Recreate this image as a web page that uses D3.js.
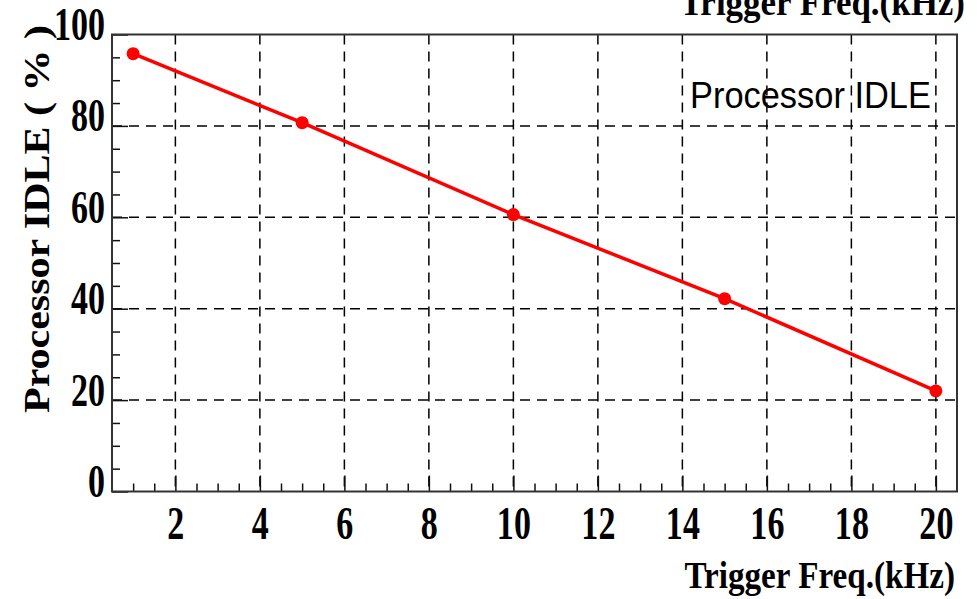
<!DOCTYPE html>
<html>
<head>
<meta charset="utf-8">
<script src="https://cdn.jsdelivr.net/npm/d3@7"></script>
<style>
  body { margin: 0; background: #fff; }
  svg { display: block; }
</style>
</head>
<body>
<div id="chart"></div>
<script>
// data
var freq = [1, 5, 10, 15, 20];
var idle = [95.8, 80.7, 60.6, 42.2, 22.0];
var xMajor = [2, 4, 6, 8, 10, 12, 14, 16, 18, 20];
var yMajor = [0, 20, 40, 60, 80, 100];
var xTitle = "Trigger Freq.(kHz)";
var yTitle = "Processor IDLE ( % )";
var legendText = "Processor IDLE";

const W = 977, H = 599;
const x = d3.scaleLinear().domain([0.5, 20.5]).range([112, 957]);
const y = d3.scaleLinear().domain([0, 100]).range([491.5, 34.5]);

const svg = d3.select("#chart").append("svg")
  .attr("width", W).attr("height", H);

const serif = "'Liberation Serif', 'Times New Roman', serif";

// grid
svg.append("g").selectAll("line").data(xMajor).enter().append("line")
  .attr("x1", d => x(d)).attr("x2", d => x(d))
  .attr("y1", y(100)).attr("y2", y(0))
  .attr("stroke", "#000").attr("stroke-width", 1.5)
  .attr("stroke-dasharray", "10,7");
svg.append("g").selectAll("line").data(yMajor.filter(d => d > 0 && d < 100)).enter().append("line")
  .attr("x1", x(0.5)).attr("x2", x(20.5))
  .attr("y1", d => y(d)).attr("y2", d => y(d))
  .attr("stroke", "#000").attr("stroke-width", 1.5)
  .attr("stroke-dasharray", "10,7");

// minor ticks
var xMinor = d3.range(1, 20.5, 0.5).filter(v => xMajor.indexOf(v) < 0);
var yMinor = d3.range(5, 100, 5).filter(v => yMajor.indexOf(v) < 0);

svg.append("g").attr("transform", "translate(0," + y(0) + ")")
  .call(d3.axisBottom(x).tickValues(xMinor).tickSizeInner(-8).tickSizeOuter(0).tickFormat(""))
  .call(g => g.select(".domain").remove())
  .selectAll("line").attr("stroke", "#111").attr("stroke-width", 1.5);

svg.append("g").attr("transform", "translate(" + x(0.5) + ",0)")
  .call(d3.axisLeft(y).tickValues(yMinor).tickSizeInner(-8).tickSizeOuter(0).tickFormat(""))
  .call(g => g.select(".domain").remove())
  .selectAll("line").attr("stroke", "#111").attr("stroke-width", 1.5);

// major ticks + labels
const xAxis = svg.append("g").attr("transform", "translate(0," + y(0) + ")")
  .call(d3.axisBottom(x).tickValues(xMajor).tickSizeInner(-16).tickSizeOuter(0));
xAxis.select(".domain").remove();
xAxis.selectAll("line").attr("stroke", "#111").attr("stroke-width", 1.5);
xAxis.selectAll("text")
  .attr("y", 0).attr("dy", 0)
  .attr("transform", "translate(0,47) scale(0.74,1)")
  .attr("font-family", serif).attr("font-weight", "bold")
  .attr("font-size", 46).attr("fill", "#000");

const yAxis = svg.append("g").attr("transform", "translate(" + x(0.5) + ",0)")
  .call(d3.axisLeft(y).tickValues(yMajor).tickSizeInner(-16).tickSizeOuter(0));
yAxis.select(".domain").remove();
yAxis.selectAll("line").attr("stroke", "#111").attr("stroke-width", 1.5);
yAxis.selectAll("text")
  .attr("x", 0).attr("dy", 0)
  .attr("transform", "translate(-7,5) scale(0.74,1)")
  .attr("text-anchor", "end")
  .attr("font-family", serif).attr("font-weight", "bold")
  .attr("font-size", 46).attr("fill", "#000");

// frame
svg.append("rect")
  .attr("x", x(0.5)).attr("y", y(100))
  .attr("width", x(20.5) - x(0.5)).attr("height", y(0) - y(100))
  .attr("fill", "none").attr("stroke", "#333").attr("stroke-width", 2);

// series
const line = d3.line().x((d, i) => x(freq[i])).y(d => y(d));
svg.append("path").datum(idle)
  .attr("d", line)
  .attr("fill", "none").attr("stroke", "#ff0000").attr("stroke-width", 3.5);
svg.append("g").selectAll("circle").data(idle).enter().append("circle")
  .attr("cx", (d, i) => x(freq[i])).attr("cy", d => y(d))
  .attr("r", 6.5).attr("fill", "#ff0000");

// legend text
svg.append("text")
  .attr("transform", "translate(690,108) scale(0.93,1)")
  .attr("font-family", "'Liberation Sans', Arial, sans-serif")
  .attr("font-size", 37).attr("fill", "#000")
  .text(legendText);

// axis titles
svg.append("text")
  .attr("transform", "translate(955,588) scale(0.85,1)")
  .attr("text-anchor", "end")
  .attr("font-family", serif).attr("font-weight", "bold")
  .attr("font-size", 39).attr("fill", "#000")
  .text(xTitle);

// same title again, cut off at the top as in the source image
svg.append("text")
  .attr("transform", "translate(965,15) scale(0.92,1)")
  .attr("text-anchor", "end")
  .attr("font-family", serif).attr("font-weight", "bold")
  .attr("font-size", 38).attr("fill", "#000")
  .text(xTitle);

svg.append("text")
  .attr("transform", "translate(49,219) rotate(-90) scale(1,0.87)")
  .attr("text-anchor", "middle")
  .attr("font-family", serif).attr("font-weight", "bold")
  .attr("font-size", 42).attr("fill", "#000")
  .text(yTitle);
</script>
</body>
</html>
